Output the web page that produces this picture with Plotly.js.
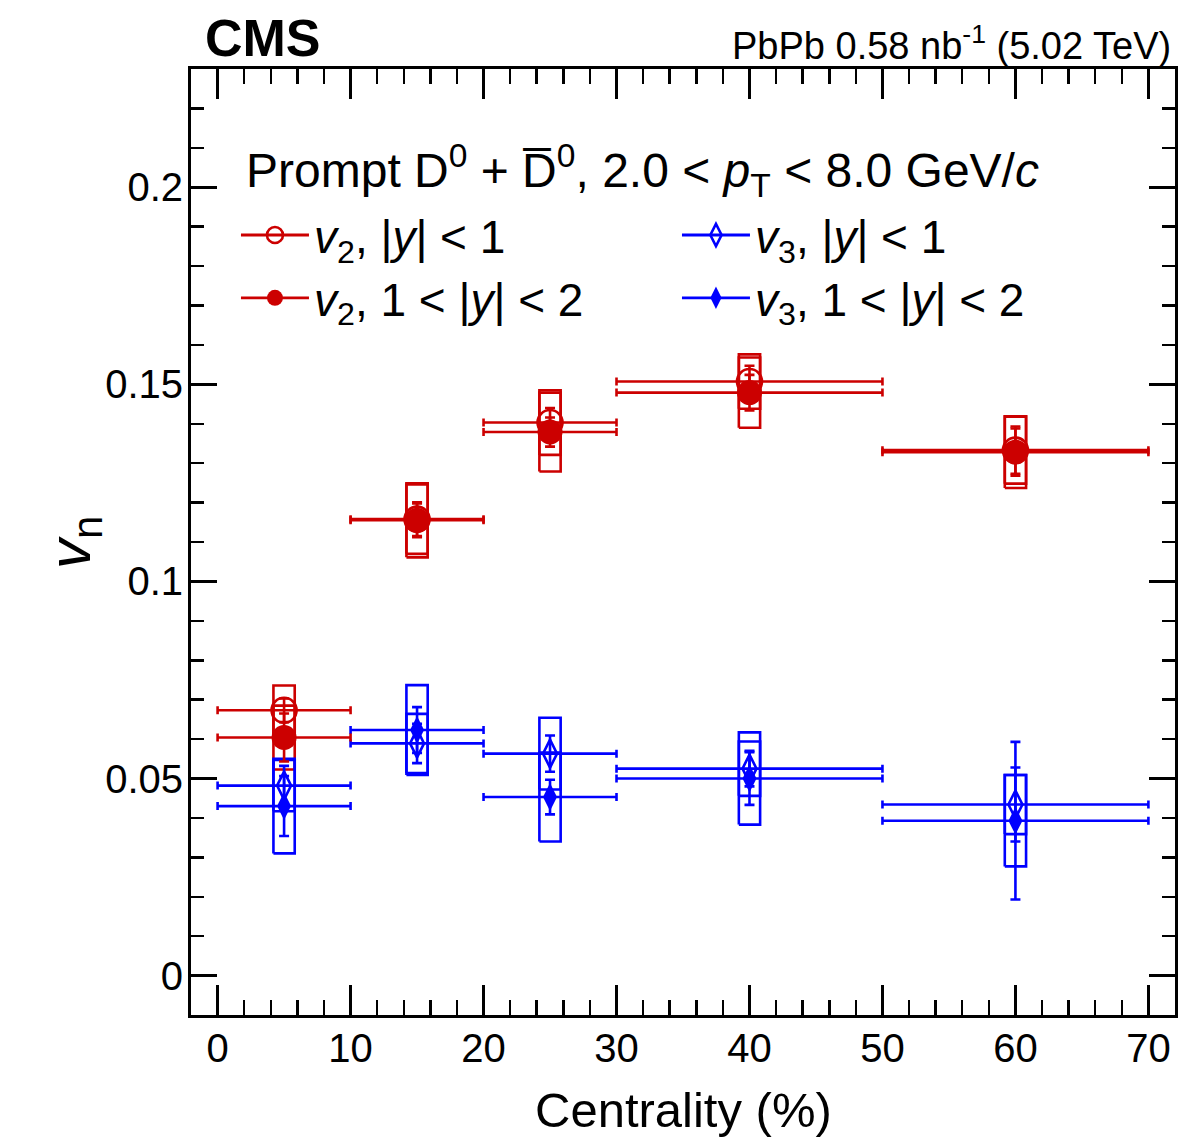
<!DOCTYPE html>
<html>
<head>
<meta charset="utf-8">
<script src="https://cdn.plot.ly/plotly-3.0.1.min.js"></script>
<style>html,body{margin:0;padding:0;background:#fff;}#plot{width:1178px;height:1138px;}</style>
</head>
<body>
<div id="plot"></div>
<script>
// ---- data ----
const centrality = [5, 15, 25, 40, 60];
const binLow  = [0, 10, 20, 30, 50];
const binHigh = [10, 20, 30, 50, 70];

const v2_absY1      = [0.0673, 0.1158, 0.1403, 0.1507, 0.1333];
const v2_absY1_stat = [0.0030, 0.0043, 0.0037, 0.0040, 0.0060];
const v2_absY1_sys  = [0.0063, 0.0088, 0.0082, 0.0069, 0.0085];

const v2_absY12      = [0.0604, 0.1155, 0.1379, 0.1479, 0.1328];
const v2_absY12_stat = [0.0061, 0.0043, 0.0037, 0.0045, 0.0060];
const v2_absY12_sys  = [0.0081, 0.0094, 0.0100, 0.0089, 0.0091];

const v3_absY1      = [0.0482, 0.0589, 0.0563, 0.0525, 0.0434];
const v3_absY1_stat = [0.0050, 0.0050, 0.0046, 0.0045, 0.0094];
const v3_absY1_sys  = [0.0065, 0.0075, 0.0091, 0.0069, 0.0075];

const v3_absY12      = [0.0430, 0.0623, 0.0453, 0.0500, 0.0393];
const v3_absY12_stat = [0.0076, 0.0058, 0.0044, 0.0067, 0.0200];
const v3_absY12_sys  = [0.0120, 0.0114, 0.0113, 0.0117, 0.0116];

const xTickVals = [0, 10, 20, 30, 40, 50, 60, 70];
const yTickVals = [0, 0.05, 0.1, 0.15, 0.2];

// ---- styles ----
const RED = '#cc0000', BLUE = '#0000ff';
const FONT = 'Liberation Sans, Arial, Helvetica, sans-serif';
const BOX_HALF = 0.8;

const xHalf = centrality.map((c, i) => (binHigh[i] - binLow[i]) / 2);
const xCenter = centrality.map((c, i) => (binHigh[i] + binLow[i]) / 2);

function sysBoxes(vals, sys, color) {
  const xs = [], ys = [];
  centrality.forEach((c, i) => {
    const lo = vals[i] - sys[i], hi = vals[i] + sys[i];
    xs.push(c - BOX_HALF, c + BOX_HALF, c + BOX_HALF, c - BOX_HALF, c - BOX_HALF, null);
    ys.push(lo, lo, hi, hi, lo, null);
  });
  return {x: xs, y: ys, type: 'scatter', mode: 'lines', line: {color: color, width: 2.6},
          hoverinfo: 'skip', showlegend: false};
}

function points(vals, stat, color, symbol, size) {
  const open = symbol.indexOf('open') >= 0;
  return {
    x: xCenter, y: vals, type: 'scatter', mode: 'markers', showlegend: false,
    marker: {symbol: symbol, size: size, color: color, line: {color: color, width: open ? 2.6 : 0}},
    error_x: {type: 'data', array: xHalf, color: color, thickness: 2.6, width: 4},
    error_y: {type: 'data', array: stat, color: color, thickness: 2.6, width: 5}
  };
}

function proxy(name, color, symbol, size) {
  const open = symbol.indexOf('open') >= 0;
  return {x: [null], y: [null], type: 'scatter', mode: 'lines+markers', name: name,
          line: {color: color, width: 2.8},
          marker: {symbol: symbol, size: size, color: color, line: {color: color, width: open ? 2.6 : 0}}};
}

const traces = [
  sysBoxes(v2_absY1, v2_absY1_sys, RED),
  sysBoxes(v2_absY12, v2_absY12_sys, RED),
  sysBoxes(v3_absY1, v3_absY1_sys, BLUE),
  sysBoxes(v3_absY12, v3_absY12_sys, BLUE),
  points(v3_absY1, v3_absY1_stat, BLUE, 'diamond-tall-open', 20),
  points(v3_absY12, v3_absY12_stat, BLUE, 'diamond-tall', 20),
  points(v2_absY1, v2_absY1_stat, RED, 'circle-open', 25),
  points(v2_absY12, v2_absY12_stat, RED, 'circle', 25),
  proxy('<i>v</i><sub>2</sub>, |<i>y</i>| < 1', RED, 'circle-open', 16),
  proxy('<i>v</i><sub>3</sub>, |<i>y</i>| < 1', BLUE, 'diamond-tall-open', 16),
  proxy('<i>v</i><sub>2</sub>, 1 < |<i>y</i>| < 2', RED, 'circle', 16),
  proxy('<i>v</i><sub>3</sub>, 1 < |<i>y</i>| < 2', BLUE, 'diamond-tall', 16)
];

const axisCommon = {
  showline: true, linecolor: '#000', linewidth: 3, mirror: 'allticks',
  ticks: 'inside', tickcolor: '#000', showgrid: false, zeroline: false,
  tickfont: {family: FONT, size: 40, color: '#000'}
};

const layout = {
  width: 1178, height: 1138,
  margin: {l: 191, r: 3, t: 69, b: 123},
  paper_bgcolor: '#fff', plot_bgcolor: '#fff',
  font: {family: FONT, color: '#000'},
  xaxis: Object.assign({}, axisCommon, {
    range: [-2, 72], tickmode: 'array', tickvals: xTickVals, ticklen: 30, tickwidth: 2.5,
    minor: {dtick: 2, tick0: 0, ticks: 'inside', ticklen: 15, tickwidth: 2.5, tickcolor: '#000', showgrid: false},
    ticklabelstandoff: -4
  }),
  yaxis: Object.assign({}, axisCommon, {
    range: [-0.01, 0.23], tickmode: 'array', tickvals: yTickVals, ticklen: 26, tickwidth: 2.5,
    minor: {dtick: 0.01, tick0: 0, ticks: 'inside', ticklen: 13, tickwidth: 2.5, tickcolor: '#000', showgrid: false},
    ticklabelstandoff: -3
  }),
  showlegend: true,
  legend: {
    x: 0.0457, y: 0.863, xanchor: 'left', yanchor: 'top',
    orientation: 'h', entrywidth: 358, itemwidth: 68,
    bgcolor: 'rgba(0,0,0,0)', borderwidth: 0,
    font: {family: FONT, size: 46, color: '#000'}
  },
  annotations: [
    {text: 'Prompt D<sup>0</sup> + D\u0305<sup>0</sup>, 2.0 < <i>p</i><sub>T</sub> < 8.0 GeV/<i>c</i>',
     xref: 'paper', yref: 'paper', x: 0.054, y: 0.893, xanchor: 'left', yanchor: 'middle',
     showarrow: false, font: {family: FONT, size: 48, color: '#000'}},
    {text: '<b>CMS</b>', xref: 'paper', yref: 'paper', x: 0.012, y: 1, xanchor: 'left', yanchor: 'bottom',
     showarrow: false, font: {family: FONT, size: 52, color: '#000'}},
    {text: 'PbPb 0.58 nb<sup>-1</sup> (5.02 TeV)', xref: 'paper', yref: 'paper', x: 0.998, y: 1,
     xanchor: 'right', yanchor: 'bottom', showarrow: false, font: {family: FONT, size: 38, color: '#000'}},
    {text: 'Centrality (%)', xref: 'paper', yref: 'paper', x: 0.501, y: -0.1, xanchor: 'center', yanchor: 'middle',
     showarrow: false, font: {family: FONT, size: 49, color: '#000'}},
    {text: '<i>v</i><sub>n</sub>', xref: 'paper', yref: 'paper', x: -0.119, y: 0.5, xanchor: 'center', yanchor: 'middle',
     textangle: -90, showarrow: false, font: {family: FONT, size: 60, color: '#000'}}
  ]
};

Plotly.newPlot('plot', traces, layout, {displayModeBar: false, staticPlot: true});
</script>
</body>
</html>
